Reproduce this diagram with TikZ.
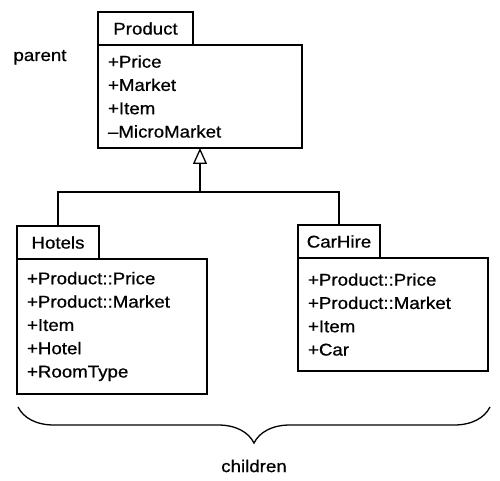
\documentclass[tikz,border=0pt]{standalone}
\usepackage{fontspec}
\setmainfont{Liberation Sans}[FakeStretch=1.1,FakeBold=0.7]
\usetikzlibrary{positioning,arrows.meta,decorations.pathreplacing}

\begin{document}
\begin{tikzpicture}[x=1pt,y=-1pt,line width=1.3pt,
		every node/.style={font=\fontsize{17}{23.3}\selectfont},
		tabbox/.style={draw,minimum height=33pt,inner sep=0pt,outer sep=0pt,anchor=north west},
		bodybox/.style={draw,align=left,inner xsep=10pt,inner ysep=0pt,outer sep=0pt,anchor=north west}]
	\useasboundingbox (0,0) rectangle (500,481);
	%\draw[help lines] (0,0) grid[step=50] (500,481);
	
	% parent class
	\node[tabbox,minimum width=95pt] (prodtab) at (98,12) {Product};
	\node[bodybox,text width=184pt,minimum height=103pt] (prodbody) at (prodtab.south west)
		{+Price\\+Market\\+Item\\--MicroMarket};
	\node[anchor=base] (parent) at (40,61) {parent};
	
	% children
	\node[tabbox,minimum width=82pt] (hoteltab) at (17,226) {Hotels};
	\node[bodybox,text width=170pt,minimum height=135pt] (hotelbody) at (hoteltab.south west)
		{+Product::Price\\+Product::Market\\+Item\\+Hotel\\+RoomType};
	
	\node[tabbox,minimum width=82pt] (cartab) at (298,225) {CarHire};
	\node[bodybox,text width=170pt,minimum height=113pt] (carbody) at (cartab.south west)
		{+Product::Price\\+Product::Market\\+Item\\+Car};
	
	% inheritance
	\coordinate (split) at (200,192);
	\draw[-{Triangle[open,length=16pt,width=14pt]}] (split) -- (prodbody.south);
	\draw (hoteltab.north) |- (split) -| (cartab.north);
	
	% brace
	\coordinate (bracel) at (18,407);
	\coordinate (bracer) at (490,407);
	\draw[decorate,decoration={brace,mirror,amplitude=36pt}] (bracel) -- (bracer);
	\node (children) at (254,466) {children};
\end{tikzpicture}
\end{document}
